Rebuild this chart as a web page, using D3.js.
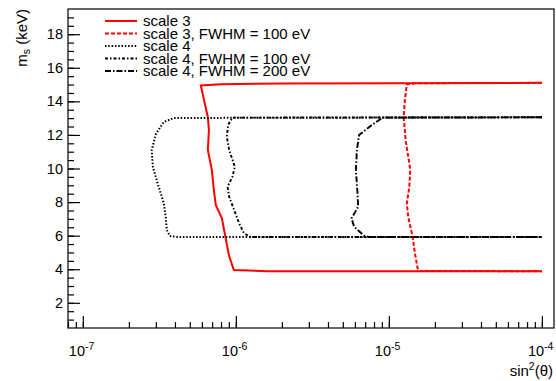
<!DOCTYPE html>
<html>
<head>
<meta charset="utf-8">
<script src="https://cdn.jsdelivr.net/npm/d3@7"></script>
<style>
  body { margin: 0; background: #fff; }
  text { font-family: "Liberation Sans", Arial, sans-serif; }
</style>
</head>
<body>
<div id="chart"></div>
<script>
// exclusion contours, x = sin^2(theta), y = m_s (keV)
var scale3 = [[1e-4,15.1],[2e-6,15.06],[8e-7,15.02],[5.9e-7,14.95],[6.56e-7,13.07],[6.67e-7,12.29],
  [6.56e-7,11.1],[6.97e-7,9.91],[7.18e-7,8.72],[7.4e-7,7.82],[8.1e-7,7.05],[9.0e-7,4.85],
  [9.7e-7,3.95],[1.6e-6,3.88],[1e-4,3.88]];
var scale3fwhm100 = [[1e-4,15.1],[1.5e-5,15.08],[1.31e-5,15.01],[1.27e-5,14.0],[1.25e-5,13.08],
  [1.29e-5,11.6],[1.35e-5,10.5],[1.38e-5,9.9],[1.36e-5,8.9],[1.31e-5,7.93],[1.34e-5,7.1],
  [1.43e-5,5.94],[1.48e-5,4.95],[1.54e-5,4.06],[1.58e-5,3.9],[1e-4,3.88]];
var scale4 = [[1e-4,13.05],[3.94e-7,13.01],[3.38e-7,12.77],[3.0e-7,12.05],[2.82e-7,11.1],
  [2.87e-7,10.09],[3.09e-7,9.08],[3.38e-7,7.94],[3.48e-7,7.11],[3.54e-7,6.34],[3.7e-7,5.98],
  [4.2e-7,5.92],[1e-4,5.92]];
var scale4fwhm100 = [[1e-4,13.05],[9.5e-7,13.03],[8.9e-7,12.59],[8.73e-7,11.89],[9.04e-7,11.1],
  [9.85e-7,10.11],[9.5e-7,9.51],[8.83e-7,8.92],[9.04e-7,8.32],[9.75e-7,7.53],[1.05e-6,6.74],
  [1.13e-6,6.14],[1.25e-6,5.92],[1e-4,5.92]];
var scale4fwhm200 = [[1e-4,13.05],[9.1e-6,13.03],[7.63e-6,12.55],[6.39e-6,11.99],[6.18e-6,11.1],
  [6.09e-6,9.91],[6.24e-6,8.52],[6.3e-6,7.72],[5.7e-6,7.03],[5.93e-6,6.53],[6.88e-6,6.0],
  [7.4e-6,5.92],[1e-4,5.92]];

var seriesNames = ["scale 3", "scale 3, FWHM = 100 eV", "scale 4", "scale 4, FWHM = 100 eV", "scale 4, FWHM = 200 eV"];
var seriesData = [scale3, scale3fwhm100, scale4, scale4fwhm100, scale4fwhm200];
var seriesColors = ["#ff0000", "#ff0000", "#000000", "#000000", "#000000"];
var seriesDash = [null, "4,2", "1.5,1.8", "3,2,1.5,2", "6,2,1.5,2"];
var seriesWidth = [2, 2, 2, 1.9, 1.9];

var xDecades = [1e-7, 1e-6, 1e-5, 1e-4];
var xExponents = ["-7", "-6", "-5", "-4"];
var yTicks = [2, 4, 6, 8, 10, 12, 14, 16, 18];

var width = 556, height = 381;
var margin = {left: 68, right: 2, top: 9, bottom: 53};

var x = d3.scaleLog().domain([8e-8, 1.2e-4]).range([margin.left, width - margin.right]);
var y = d3.scaleLinear().domain([0.5, 19.5]).range([height - margin.bottom, margin.top]);

var svg = d3.select("#chart").append("svg")
    .attr("width", width)
    .attr("height", height);

// frame
svg.append("rect")
    .attr("x", x.range()[0]).attr("y", y.range()[1])
    .attr("width", x.range()[1] - x.range()[0])
    .attr("height", y.range()[0] - y.range()[1])
    .attr("fill", "none").attr("stroke", "#000").attr("stroke-width", 1.2);

// minor ticks x
var xMinor = [];
[1e-8, 1e-7, 1e-6, 1e-5, 1e-4].forEach(function(d) {
    for (var k = 1; k <= 9; k++) {
        var v = d * k;
        if (v >= 8e-8 && v <= 1.2e-4) xMinor.push(v);
    }
});
var xAxis = d3.axisTop(x).tickValues(xMinor).tickSize(6).tickFormat("");
svg.append("g")
    .attr("transform", "translate(0," + y.range()[0] + ")")
    .call(xAxis)
    .call(function(g) { g.select(".domain").remove(); });
svg.append("g")
    .attr("transform", "translate(0," + y.range()[0] + ")")
    .call(d3.axisTop(x).tickValues(xDecades).tickSize(12).tickFormat(""))
    .call(function(g) { g.select(".domain").remove(); });

// y ticks
var yMinor = d3.range(1, 19.01, 0.5);
svg.append("g")
    .attr("transform", "translate(" + x.range()[0] + ",0)")
    .call(d3.axisRight(y).tickValues(yMinor).tickSize(6).tickFormat(""))
    .call(function(g) { g.select(".domain").remove(); });
svg.append("g")
    .attr("transform", "translate(" + x.range()[0] + ",0)")
    .call(d3.axisRight(y).tickValues(yTicks).tickSize(12).tickFormat(""))
    .call(function(g) { g.select(".domain").remove(); });
svg.selectAll(".tick line").attr("stroke", "#000").attr("stroke-width", 1.2);

// y labels
svg.append("g").selectAll("text").data(yTicks).join("text")
    .attr("x", x.range()[0] - 5)
    .attr("y", function(d) { return y(d) + 5; })
    .attr("text-anchor", "end")
    .attr("font-size", 14.5)
    .text(function(d) { return d; });

// x labels
var xl = svg.append("g").selectAll("text").data(xDecades).join("text")
    .attr("x", function(d) { return x(d) - 14; })
    .attr("y", 356)
    .attr("font-size", 14.5);
xl.append("tspan").text("10");
xl.append("tspan").attr("dy", -6).attr("font-size", 10.5).text(function(d, i) { return xExponents[i]; });

// axis titles
var xt = svg.append("text")
    .attr("x", width - 3).attr("y", 376)
    .attr("text-anchor", "end").attr("font-size", 15);
xt.append("tspan").text("sin");
xt.append("tspan").attr("dy", -6).attr("font-size", 10.5).text("2");
xt.append("tspan").attr("dy", 6).text("(θ)");

var yt = svg.append("text")
    .attr("transform", "translate(27," + margin.top + ") rotate(-90)")
    .attr("text-anchor", "end").attr("font-size", 15);
yt.append("tspan").text("m");
yt.append("tspan").attr("dy", 3).attr("font-size", 10.5).text("s");
yt.append("tspan").attr("dy", -3).text(" (keV)");

// curves
var line = d3.line()
    .x(function(d) { return x(d[0]); })
    .y(function(d) { return y(d[1]); });

svg.append("g").selectAll("path").data(seriesData).join("path")
    .attr("d", line)
    .attr("fill", "none")
    .attr("stroke", function(d, i) { return seriesColors[i]; })
    .attr("stroke-width", function(d, i) { return seriesWidth[i]; })
    .attr("stroke-dasharray", function(d, i) { return seriesDash[i]; });

// legend (rows are packed tight, as in the original)
var legendY = [21, 33.5, 46, 58.5, 71];
var lg = svg.append("g");
seriesNames.forEach(function(name, i) {
    lg.append("line")
        .attr("x1", 105).attr("x2", 137)
        .attr("y1", legendY[i]).attr("y2", legendY[i])
        .attr("stroke", seriesColors[i])
        .attr("stroke-width", seriesWidth[i])
        .attr("stroke-dasharray", seriesDash[i]);
    lg.append("text")
        .attr("x", 143).attr("y", legendY[i] + 5)
        .attr("font-size", 15)
        .text(name);
});
</script>
</body>
</html>
